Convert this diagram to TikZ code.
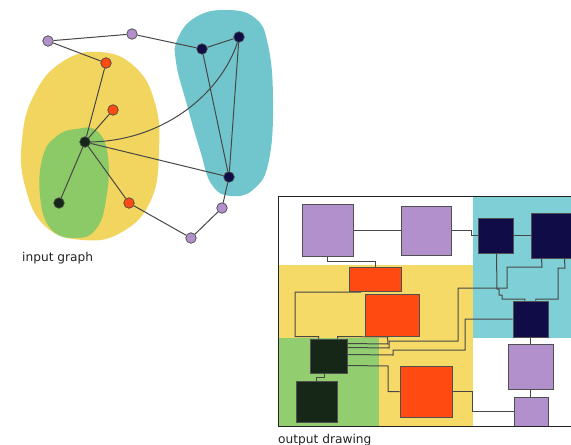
\documentclass[tikz,border=0pt]{standalone}
\usepackage{fontspec}
\setmainfont{DejaVu Sans}
\usetikzlibrary{calc}

\definecolor{blobyellow}{HTML}{F2D55E}
\definecolor{blobgreen}{HTML}{8CCA67}
\definecolor{blobcyan}{HTML}{71C6CD}
\definecolor{regyellow}{HTML}{F5DA68}
\definecolor{reggreen}{HTML}{92CE70}
\definecolor{regcyan}{HTML}{7FCFD6}
\definecolor{lav}{HTML}{B190CB}
\definecolor{hotred}{HTML}{FF4A12}
\definecolor{navy}{HTML}{100C48}
\definecolor{darkg}{HTML}{172717}
\definecolor{edgegray}{HTML}{474747}
\definecolor{boxgray}{HTML}{505050}
\definecolor{textgray}{HTML}{222222}

\pgfdeclarelayer{bg}
\pgfdeclarelayer{wires}
\pgfsetlayers{bg,wires,main}

\tikzset{
  vtx/.style={circle, draw=edgegray, line width=0.7pt, minimum size=10.5pt, inner sep=0pt},
  box/.style={draw=boxgray, line width=1pt, inner sep=0pt},
  wire/.style={draw=edgegray, line width=1pt},
  lbl/.style={font=\fontsize{12.2}{14}\selectfont, anchor=base west, inner sep=0pt, text=textgray}
}

\begin{document}
\begin{tikzpicture}[x=1pt, y=-1pt]
\useasboundingbox (0,0) rectangle (571,445);
\clip (0,0) rectangle (571,445);

% ---------- input graph ----------
\node[vtx, fill=lav]    (a1) at (48,41)   {};
\node[vtx, fill=lav]    (a2) at (132,34)  {};
\node[vtx, fill=hotred] (q1) at (106,63)  {};
\node[vtx, fill=hotred] (q2) at (113,110) {};
\node[vtx, fill=darkg]  (c)  at (85,142)  {};
\node[vtx, fill=darkg]  (g2) at (59,203)  {};
\node[vtx, fill=hotred] (q3) at (129,203) {};
\node[vtx, fill=navy]   (m1) at (202,49)  {};
\node[vtx, fill=navy]   (m2) at (239,37)  {};
\node[vtx, fill=navy]   (m3) at (229,177) {};
\node[vtx, fill=lav]    (a3) at (222,208) {};
\node[vtx, fill=lav]    (a4) at (191,238) {};

\begin{pgfonlayer}{bg}
  % cluster regions
  \fill[blobyellow] plot[smooth cycle, tension=0.75] coordinates
    {(100,52) (135,67) (155,103) (159,150) (151,200) (122,232) (83,240)
     (45,226) (25,186) (22,140) (34,95) (62,62)};
  \fill[blobgreen] plot[smooth cycle, tension=0.75] coordinates
    {(76,129) (97,131) (108,157) (106,200) (96,229) (76,238) (51,229)
     (40,196) (43,156) (57,136)};
  \fill[blobcyan] plot[smooth cycle, tension=0.75] coordinates
    {(178,38) (196,17) (226,10) (255,18) (268,45) (273,100) (269,160)
     (255,188) (232,196) (212,185) (200,150) (187,105) (176,62)};
\end{pgfonlayer}

\begin{pgfonlayer}{wires}
  \draw[wire] (a1) -- (a2);
  \draw[wire] (a1) -- (q1);
  \draw[wire] (a2) -- (m1);
  \draw[wire] (m1) -- (m2);
  \draw[wire] (m1) -- (m3);
  \draw[wire] (m2) -- (m3);
  \draw[wire] (c.center) .. controls (165,143) and (225,90) .. (m2.center);
  \draw[wire] (q1) -- (c);
  \draw[wire] (q2) -- (c);
  \draw[wire] (c) -- (g2);
  \draw[wire] (c) -- (q3);
  \draw[wire] (c) -- (m3);
  \draw[wire] (q3) -- (a4);
  \draw[wire] (a4) -- (a3);
  \draw[wire] (a3) -- (m3);
\end{pgfonlayer}

\node[lbl] (inlabel) at (22,261) {input graph};

% ---------- output drawing ----------
\begin{pgfonlayer}{bg}
  \fill[white]     (278,196) rectangle (590,426);
  \fill[regcyan]   (473,196) rectangle (590,338);
  \fill[regyellow] (278,265) rectangle (473,426);
  \fill[reggreen]  (278,338) rectangle (379,426);
\end{pgfonlayer}

\node[box, fill=lav,    minimum width=51pt, minimum height=52pt] (p1) at (327.5,230)   {};
\node[box, fill=lav,    minimum width=50pt, minimum height=49pt] (p2) at (426,230.5)   {};
\node[box, fill=navy,   minimum width=35pt, minimum height=35pt] (n1) at (495.5,235.5) {};
\node[box, fill=navy,   minimum width=44pt, minimum height=45pt] (n2) at (553,235.5)   {};
\node[box, fill=hotred, minimum width=52pt, minimum height=24pt] (r1) at (375,279)     {};
\node[box, fill=hotred, minimum width=54pt, minimum height=42pt] (r2) at (392,315)     {};
\node[box, fill=darkg,  minimum width=37pt, minimum height=34pt] (d1) at (328.5,356)   {};
\node[box, fill=darkg,  minimum width=41pt, minimum height=41pt] (d2) at (316.5,401.5) {};
\node[box, fill=hotred, minimum width=52pt, minimum height=51pt] (r3) at (426,391.5)   {};
\node[box, fill=navy,   minimum width=35pt, minimum height=36pt] (n3) at (530.5,319)   {};
\node[box, fill=lav,    minimum width=45pt, minimum height=45pt] (p3) at (530.5,366.5) {};
\node[box, fill=lav,    minimum width=34pt, minimum height=29pt] (p4) at (531,411.5)   {};

\begin{pgfonlayer}{wires}
  \draw[wire] (p1.east) -- (p1.east -| p2.west);
  \draw[wire] (p2.east) -| (471,235.5) -- (n1.west);
  \draw[wire] (n1.east) -- (n1.east -| n2.west);
  \draw[wire] (p1.south) -- ++(0,5) -| (r1.north);
  % routes leaving the top of d1
  \draw[wire] ($(d1.north west)+(9,0)$) -- ++(0,-2) -| (295,292)
              -- (360,292) -- ($(r1.south west)+(11,0)$);
  \draw[wire] ($(d1.north east)+(-10,0)$) -- ++(0,-2) -- (388,337);
  % routes leaving the right side of d1
  \draw[wire] ($(d1.north east)+(0,5)$) -- (388,344) -- ($(r2.south west)+(23,0)$);
  \draw[wire] ($(d1.north east)+(0,9)$) -- (389,348) -- (389,341) -- (458,341)
              -- (458,288) -- (507,288) -- (507,267) -- (542,267)
              -- ($(n2.south west)+(11,0)$);
  \draw[wire] ($(d1.north east)+(0,16)$) -- (393,355) -- (393,350) -- (465,350)
              -- (465,319) -- (n3.west);
  \draw[wire] ($(d1.north east)+(0,27)$) -- (388,366) -- (388,391.5) -- (r3.west);
  \draw[wire] ($(d1.south west)+(15,0)$) -- ++(0,4) -| ($(d2.north west)+(21,0)$);
  \draw[wire] (r3.east) -- (472,391.5) |- (p4.west);
  % routes into the top of n3
  \draw[wire] ($(n1.south west)+(19,0)$) -- (497,289) -- (499,289) -- (499,295)
              -- (502,295) -- (502,299) -- (525,299) -- ($(n3.north west)+(12,0)$);
  \draw[wire] ($(n2.south west)+(34,0)$) -- (565,268) -- (558,268) -- (558,299)
              -- (536,299) -- ($(n3.north west)+(23,0)$);
  \draw[wire] (n3.south) -- (p3.north);
  \draw[wire] (p3.south) -- (p3.south |- p4.north);
\end{pgfonlayer}

% frame of the drawing area
\draw[draw=textgray, line width=1pt] (278,196) rectangle (590,426);

\node[lbl] (outlabel) at (278,443) {output drawing};
\end{tikzpicture}
\end{document}
